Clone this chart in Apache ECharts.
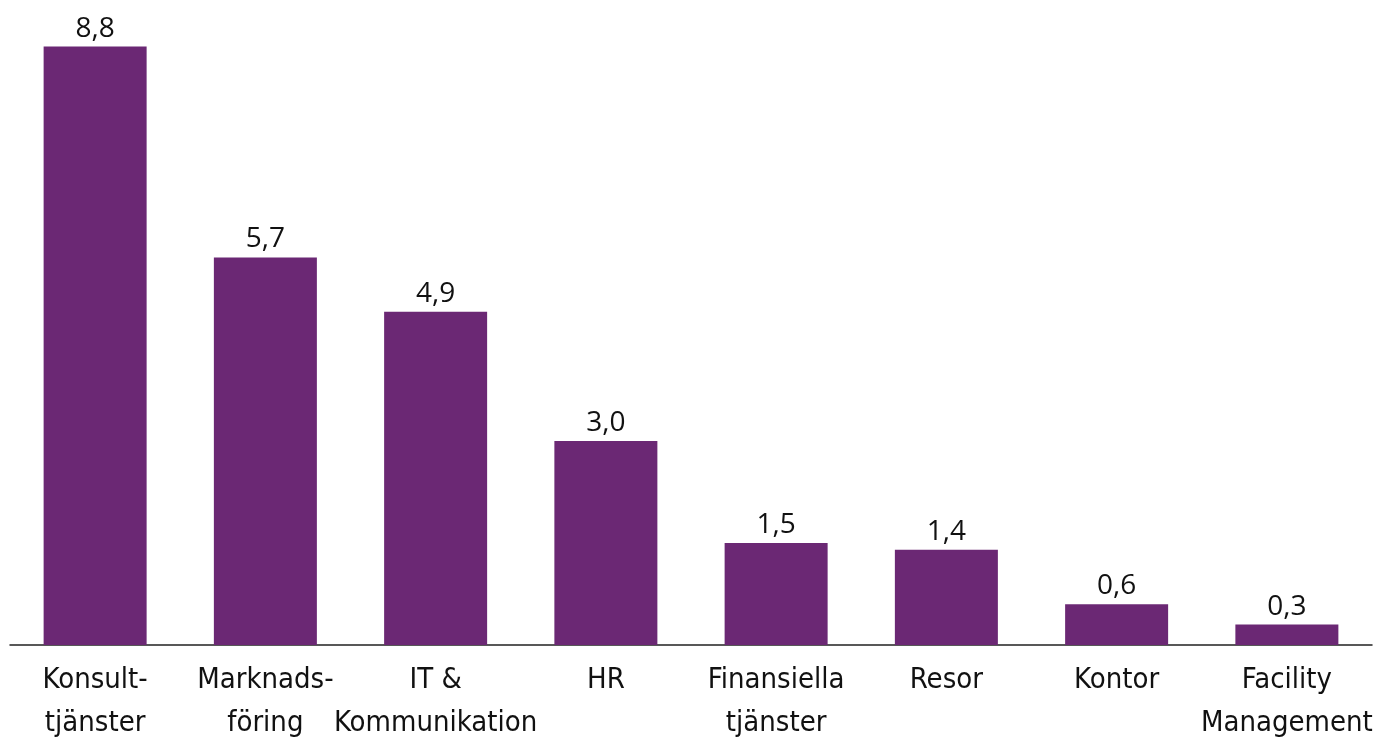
<!DOCTYPE html>
<html>
<head>
<meta charset="utf-8">
<title>Kategorier</title>
<script src="https://cdn.jsdelivr.net/npm/echarts@6/dist/echarts.min.js"></script>
<style>
  html, body { margin: 0; padding: 0; background: #fff; }
  #chart { width: 1381px; height: 740px; }
</style>
</head>
<body>
<div id="chart"></div>
<script>
var categories = ['Konsult-\ntjänster', 'Marknads-\nföring', 'IT &\nKommunikation', 'HR',
                  'Finansiella\ntjänster', 'Resor', 'Kontor', 'Facility\nManagement'];
var values = [8.8, 5.7, 4.9, 3.0, 1.5, 1.4, 0.6, 0.3];

var chart = echarts.init(document.getElementById('chart'));

chart.setOption({
  animation: false,
  grid: { left: 10, right: 9, top: 33, bottom: 95, containLabel: false, outerBoundsMode: 'none' },
  xAxis: {
    type: 'category',
    data: categories,
    axisTick: { show: false },
    axisLine: { lineStyle: { color: '#222', width: 1.5 } },
    axisLabel: {
      interval: 0,
      margin: 14,
      color: '#111',
      fontSize: 29,
      lineHeight: 43,
      fontFamily: "'Liberation Sans Narrow', 'DejaVu Sans Condensed', sans-serif"
    }
  },
  yAxis: {
    type: 'value',
    min: 0,
    max: 9,
    show: false,
    splitLine: { show: false }
  },
  series: [{
    type: 'bar',
    data: values,
    barWidth: '60.5%',
    itemStyle: { color: '#6B2874' },
    label: {
      show: true,
      position: 'top',
      distance: 4,
      color: '#111',
      fontSize: 28,
      fontFamily: "'Open Sans', sans-serif",
      formatter: function (p) { return p.value.toFixed(1).replace('.', ','); }
    }
  }]
});
</script>
</body>
</html>
